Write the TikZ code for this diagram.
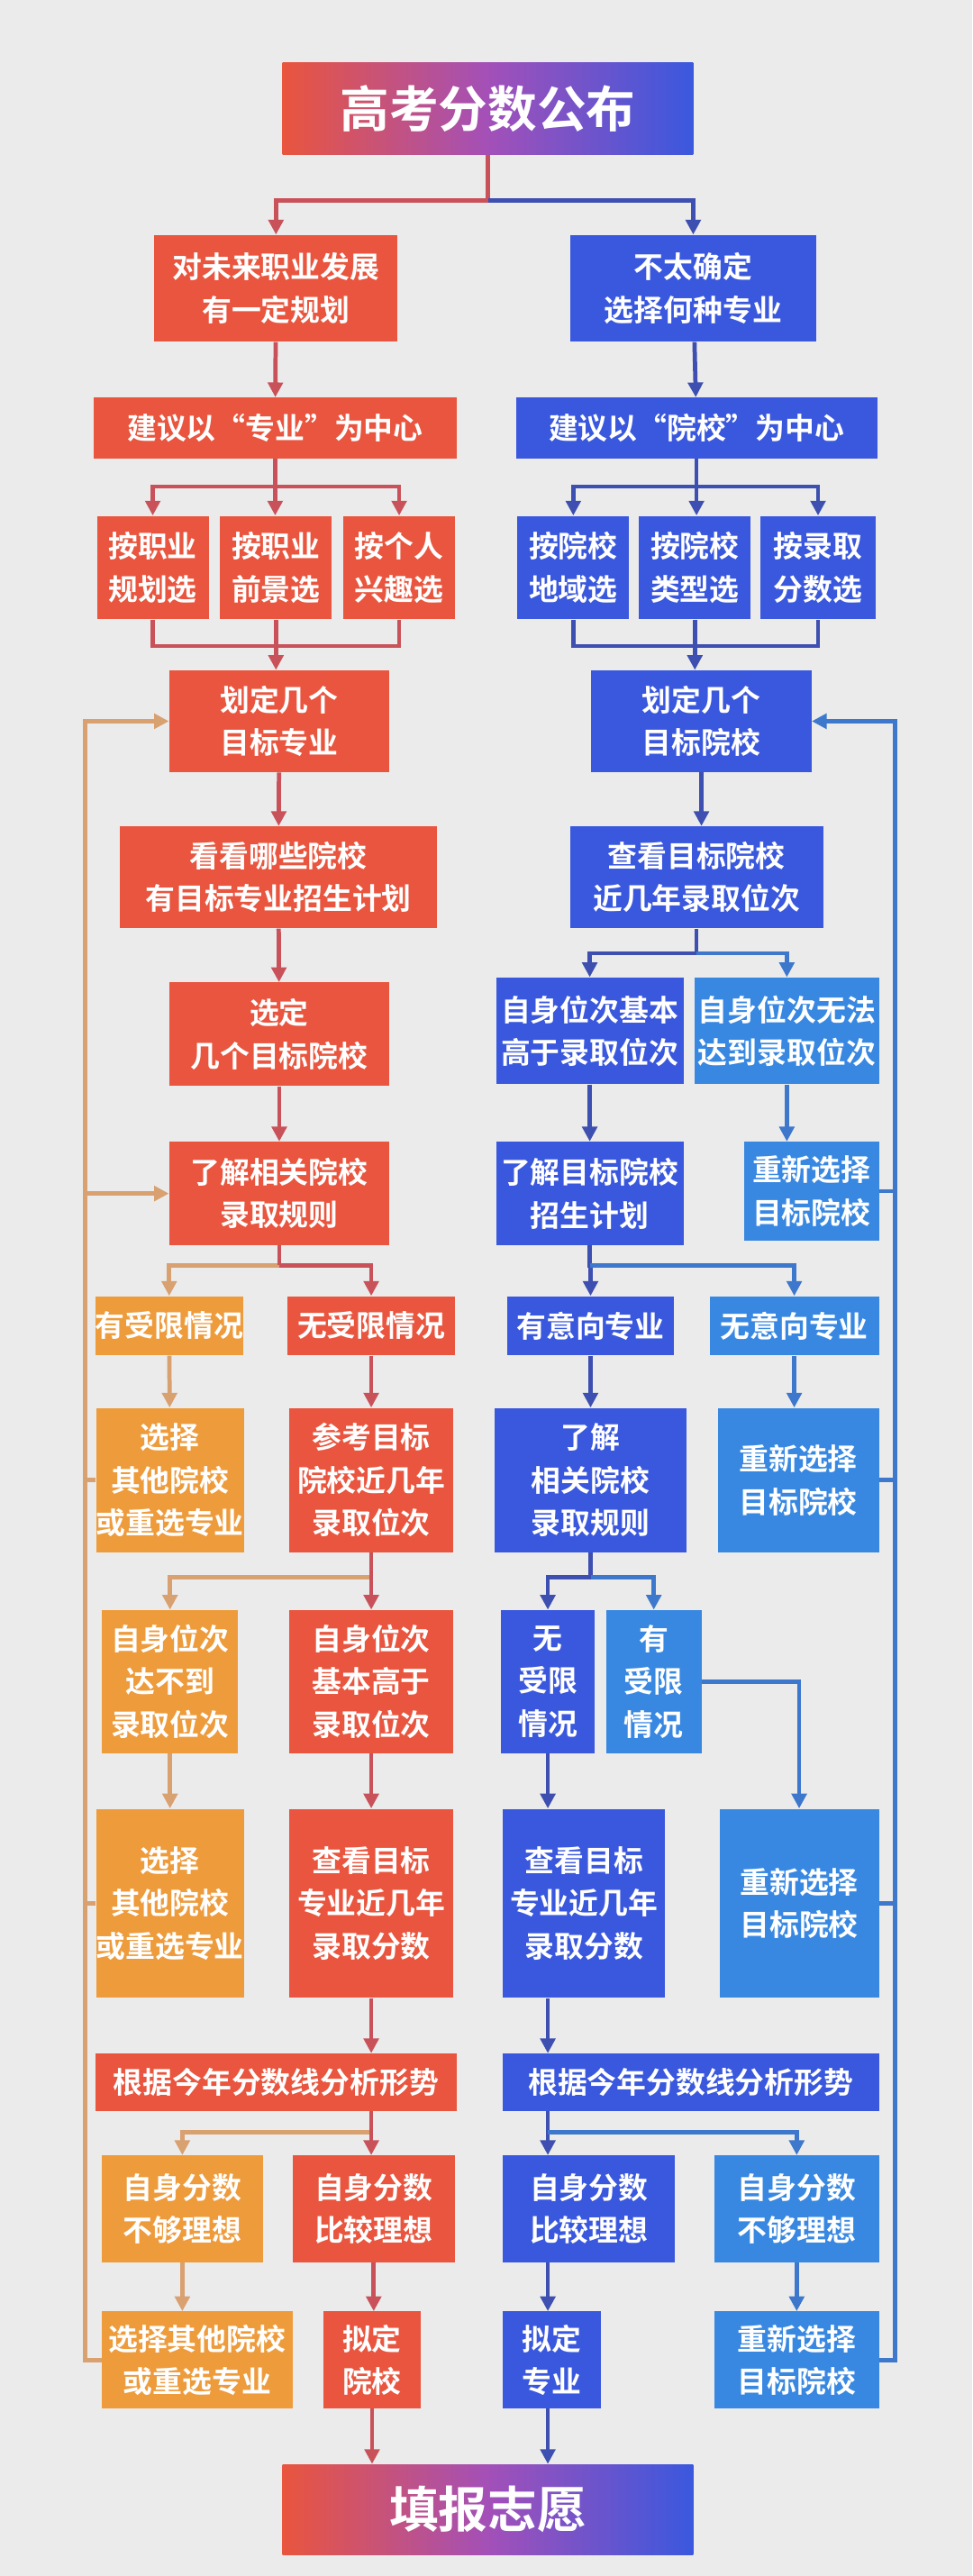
\documentclass[tikz,border=0pt]{standalone}
\usepackage{fontspec}
\setmainfont{Noto Sans CJK SC Bold}
\usetikzlibrary{arrows.meta,calc}
\definecolor{bg}{HTML}{EBEBEB}
\definecolor{cr}{HTML}{E9553E}
\definecolor{co}{HTML}{EE9B3B}
\definecolor{cb}{HTML}{3A58DE}
\definecolor{cl}{HTML}{3888E2}
\definecolor{ar}{HTML}{C9525A}
\definecolor{ao}{HTML}{D9A070}
\definecolor{ab}{HTML}{3D4FB0}
\definecolor{al}{HTML}{3D78CC}
\definecolor{gm}{HTML}{A350B8}
\tikzset{
 box/.style={rectangle,inner sep=0pt,text=white,align=center,font=\fontsize{18}{26}\selectfont},
 con/.style={line width=2.6pt},
 tip/.style={-{Triangle[width=9pt,length=9pt]}},
 rl/.style={con,draw=ar}, ra/.style={rl,tip},
 ol/.style={con,draw=ao}, oa/.style={ol,tip},
 bl/.style={con,draw=ab}, ba/.style={bl,tip},
 ll/.style={con,draw=al}, la/.style={ll,tip},
}
\newcommand\bx[7]{%
 \pgfmathsetmacro\bw{#4-#2}\pgfmathsetmacro\bh{#5-#3}%
 \node[box,fill=#6,minimum width=\bw pt,minimum height=\bh pt] (#1) at ({(#2+#4)/2},{(#3+#5)/2}) {#7};}
\begin{document}
\begin{tikzpicture}[x=1pt,y=-1pt]
\fill[bg] (0,0) rectangle (592,1568);
\useasboundingbox (0,0) rectangle (592,1568);
% top / bottom
\node[box,left color=cr,right color=cb,middle color=gm,minimum width=250pt,minimum height=56pt,font=\fontsize{30}{34}\selectfont] (top) at (297,66) {高考分数公布};
\node[box,left color=cr,right color=cb,middle color=gm,minimum width=250pt,minimum height=55pt,font=\fontsize{30}{34}\selectfont] (bot) at (297,1527.5) {填报志愿};
% left column
\bx{L1}{94}{143}{242}{208}{cr}{对未来职业发展\\有一定规划}
\bx{L2}{57}{242}{278}{279}{cr}{建议以“专业”为中心}
\bx{La}{59}{314}{127}{377}{cr}{按职业\\规划选}
\bx{Lb}{134}{314}{202}{377}{cr}{按职业\\前景选}
\bx{Lc}{209}{314}{277}{377}{cr}{按个人\\兴趣选}
\bx{L4}{103}{408}{237}{470}{cr}{划定几个\\目标专业}
\bx{L5}{73}{503}{266}{565}{cr}{看看哪些院校\\有目标专业招生计划}
\bx{L6}{103}{598}{237}{661}{cr}{选定\\几个目标院校}
\bx{L7}{103}{695}{237}{758}{cr}{了解相关院校\\录取规则}
\bx{L8a}{61}{789}{145}{825}{co}{有受限情况}
\bx{L8b}{175}{789}{277}{825}{cr}{无受限情况}
\bx{L9a}{62}{857}{145}{945}{co}{选择\\其他院校\\或重选专业}
\bx{L9b}{176}{857}{276}{945}{cr}{参考目标\\院校近几年\\录取位次}
\bx{L10a}{62}{980}{145}{1067}{co}{自身位次\\达不到\\录取位次}
\bx{L10b}{176}{980}{276}{1067}{cr}{自身位次\\基本高于\\录取位次}
\bx{L11a}{62}{1101}{145}{1216}{co}{选择\\其他院校\\或重选专业}
\bx{L11b}{176}{1101}{276}{1216}{cr}{查看目标\\专业近几年\\录取分数}
\bx{L12}{58}{1250}{278}{1285}{cr}{根据今年分数线分析形势}
\bx{L13a}{62}{1312}{160}{1377}{co}{自身分数\\不够理想}
\bx{L13b}{178}{1312}{277}{1377}{cr}{自身分数\\比较理想}
\bx{L14a}{62}{1407}{178}{1466}{co}{选择其他院校\\或重选专业}
\bx{L14b}{197}{1407}{256}{1466}{cr}{拟定\\院校}
% right column
\bx{R1}{347}{143}{497}{208}{cb}{不太确定\\选择何种专业}
\bx{R2}{314}{242}{534}{279}{cb}{建议以“院校”为中心}
\bx{Ra}{315}{314}{383}{377}{cb}{按院校\\地域选}
\bx{Rb}{389}{314}{457}{377}{cb}{按院校\\类型选}
\bx{Rc}{463}{314}{533}{377}{cb}{按录取\\分数选}
\bx{R4}{360}{408}{494}{470}{cb}{划定几个\\目标院校}
\bx{R5}{347}{503}{501}{565}{cb}{查看目标院校\\近几年录取位次}
\bx{R6a}{302}{595}{416}{660}{cb}{自身位次基本\\高于录取位次}
\bx{R6b}{423}{595}{535}{660}{cl}{自身位次无法\\达到录取位次}
\bx{R7a}{302}{695}{416}{758}{cb}{了解目标院校\\招生计划}
\bx{R7b}{453}{695}{535}{755}{cl}{重新选择\\目标院校}
\bx{R8a}{309}{789}{410}{825}{cb}{有意向专业}
\bx{R8b}{432}{789}{535}{825}{cl}{无意向专业}
\bx{R9a}{301}{857}{418}{945}{cb}{了解\\相关院校\\录取规则}
\bx{R9b}{437}{857}{535}{945}{cl}{重新选择\\目标院校}
\bx{R10a}{305}{980}{362}{1067}{cb}{无\\受限\\情况}
\bx{R10b}{369}{980}{427}{1067}{cl}{有\\受限\\情况}
\bx{R11a}{306}{1101}{405}{1216}{cb}{查看目标\\专业近几年\\录取分数}
\bx{R11b}{438}{1101}{535}{1216}{cl}{重新选择\\目标院校}
\bx{R12}{306}{1250}{535}{1285}{cb}{根据今年分数线分析形势}
\bx{R13a}{306}{1312}{411}{1377}{cb}{自身分数\\比较理想}
\bx{R13b}{435}{1312}{535}{1377}{cl}{自身分数\\不够理想}
\bx{R14a}{306}{1407}{366}{1466}{cb}{拟定\\专业}
\bx{R14b}{435}{1407}{535}{1466}{cl}{重新选择\\目标院校}
% coordinates
\coordinate (j0) at (297,122);
\coordinate (lx) at (52,0);
\coordinate (rx) at (545,0);
% top split
\draw[ra] (top.south) -- (j0) -| (L1.north);
\draw[ba] (j0) -| (R1.north);
% left connectors
\draw[ra] (L1) -- (L2);
\coordinate (j1) at ($(L2.south)+(0,17)$);
\draw[ra] (j1) -| (La.north); \draw[ra] (j1) -| (Lc.north);
\draw[ra] (L2.south) -- (L2.south |- Lb.north);
\draw[rl] (La.south) -- ++(0,16) -| (Lc.south);
\draw[ra] (Lb.south) -- (Lb.south |- L4.north);
\draw[ra] (L4) -- (L5); \draw[ra] (L5) -- (L6); \draw[ra] (L6) -- (L7);
\coordinate (j2) at ($(L7.south)+(0,12)$);
\draw[oa] (j2) -| (L8a.north);
\draw[rl] (L7.south) -- (j2);
\draw[ra] (j2) -| (L8b.north);
\draw[oa] (L8a) -- (L9a); \draw[ra] (L8b) -- (L9b);
\coordinate (j3) at ($(L9b.south)+(0,15)$);
\draw[oa] (j3) -| (L10a.north);
\draw[ra] (L9b) -- (L10b);
\draw[oa] (L10a) -- (L11a); \draw[ra] (L10b) -- (L11b);
\draw[ra] (L11b.south) -- (L11b.south |- L12.north);
\coordinate (j4) at (L11b.south |- 0,1298);
\draw[oa] (j4) -| (L13a.north);
\draw[ra] (L11b.south |- L12.south) -- (L11b.south |- L13b.north);
\draw[oa] (L13a.south) -- (L13a.south |- L14a.north);
\draw[ra] (L13b.south) -- (L13b.south |- L14b.north);
\draw[ra] (L14b.south) -- (L14b.south |- bot.north);
% left feedback
\draw[oa] (L14a.west) -- (L14a.west -| lx) |- (L4.west);
\draw[oa] (L7.west -| lx) -- (L7.west);
\draw[ol] (L9a.west) -- (L9a.west -| lx);
\draw[ol] (L11a.west) -- (L11a.west -| lx);
% right connectors
\draw[ba] (R1) -- (R2);
\coordinate (k1) at ($(R2.south)+(0,17)$);
\draw[ba] (k1) -| (Ra.north); \draw[ba] (k1) -| (Rc.north);
\draw[ba] (R2.south) -- (R2.south |- Rb.north);
\draw[bl] (Ra.south) -- ++(0,16) -| (Rc.south);
\draw[ba] (Rb.south) -- (Rb.south |- R4.north);
\draw[ba] (R4.south) -- (R4.south |- R5.north);
\coordinate (k2) at ($(R5.south)+(0,15)$);
\draw[ba] (R5.south) -- (k2) -| (R6a.north);
\draw[la] (k2) -| (R6b.north);
\draw[ba] (R6a) -- (R7a);
\draw[la] (R6b.south) -- (R6b.south |- R7b.north);
\coordinate (k3) at ($(R7a.south)+(0,12)$);
\draw[ba] (R7a.south) -- (k3) -| (R8a.north);
\draw[la] (k3) -| (R8b.north);
\draw[ba] (R8a.south) -- (R8a.south |- R9a.north);
\draw[la] (R8b.south) -- (R8b.south |- R9b.north);
\coordinate (k4) at ($(R9a.south)+(0,15)$);
\draw[ba] (R9a.south) -- (k4) -| (R10a.north);
\draw[la] (k4) -| (R10b.north);
\draw[ba] (R10a.south) -- (R10a.south |- R11a.north);
\draw[la] (R10b.east) -| (R11b.north);
\draw[ba] (R10a.south |- R11a.south) -- (R10a.south |- R12.north);
\coordinate (k5) at (R10a.south |- 0,1298);
\draw[ba] (R10a.south |- R12.south) -- (R10a.south |- R13a.north);
\draw[la] (k5) -| (R13b.north);
\draw[ba] (R10a.south |- R13a.south) -- (R10a.south |- R14a.north);
\draw[la] (R13b) -- (R14b);
\draw[ba] (R10a.south |- R14a.south) -- (R10a.south |- bot.north);
% right feedback
\draw[la] (R14b.east) -- (R14b.east -| rx) |- (R4.east);
\draw[ll] (R11b.east) -- (R11b.east -| rx);
\draw[ll] (R9b.east) -- (R9b.east -| rx);
\draw[ll] (R7b.east) -- (R7b.east -| rx);
\end{tikzpicture}
\end{document}
